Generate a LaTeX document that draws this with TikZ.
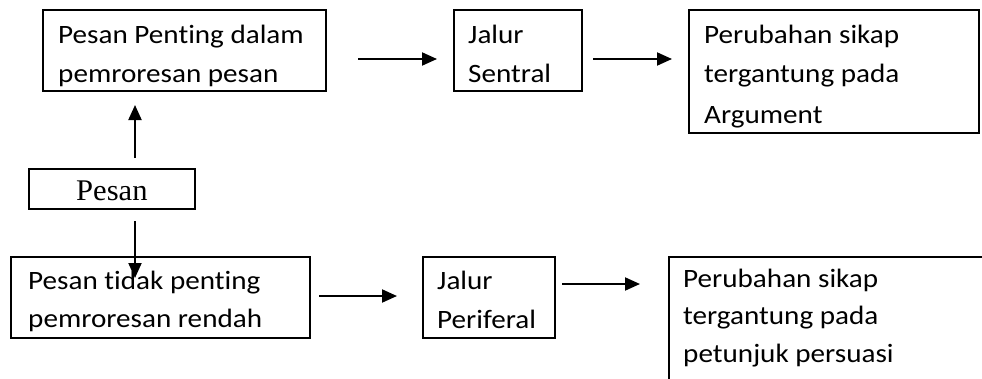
\documentclass[tikz,border=0pt]{standalone}
\usepackage{fontspec}
\setmainfont{Carlito}[FakeStretch=1.10, Ligatures=NoCommon]
\newfontfamily\serifword{Liberation Serif}[FakeStretch=1.02]
\usetikzlibrary{arrows.meta}

\tikzset{
  box/.style={draw, line width=2.4pt, rectangle, inner sep=0pt, outer sep=0pt, anchor=north west},
  txt/.style={anchor=base west, inner sep=0pt, font=\fontsize{26.5}{30}\selectfont},
  arr/.style={line width=2pt, -{Triangle[length=15pt,width=13pt]}}
}

\begin{document}
\begin{tikzpicture}[x=1pt, y=-1pt]
  \useasboundingbox (0,0) rectangle (982,378);
  \clip (0,0) rectangle (982,378);

  % boxes (top row)
  \node[box, minimum width=283pt, minimum height=81pt] (penting) at (43,10) {};
  \node[box, minimum width=128pt, minimum height=81pt] (sentral) at (454,10) {};
  \node[box, minimum width=290pt, minimum height=123pt] (argumen) at (689,10) {};

  % source
  \node[box, minimum width=166pt, minimum height=40pt] (pesan) at (29,169) {};

  % boxes (bottom row)
  \node[box, minimum width=299pt, minimum height=81pt] (tidak) at (11,257) {};
  \node[box, minimum width=132pt, minimum height=81pt] (periferal) at (423,257) {};
  \node[box, minimum width=400pt, minimum height=200pt] (petunjuk) at (669,257) {};

  % texts
  \node[txt] (t1a) at (58,43) {Pesan Penting dalam};
  \node[txt] (t1b) at (58,82) {pemroresan pesan};
  \node[txt] (t2a) at (468,43) {Jalur};
  \node[txt] (t2b) at (468,82) {Sentral};
  \node[txt] (t3a) at (704,43) {Perubahan sikap};
  \node[txt] (t3b) at (704,82) {tergantung pada};
  \node[txt] (t3c) at (704,123) {Argument};

  \node[anchor=base west, inner sep=0pt, font=\serifword\fontsize{30}{34}\selectfont] (tp) at (76,200) {Pesan};

  \node[txt] (t4a) at (28,289) {Pesan tidak penting};
  \node[txt] (t4b) at (28,327) {pemroresan rendah};
  \node[txt] (t5a) at (437,289) {Jalur};
  \node[txt] (t5b) at (437,328) {Periferal};
  \node[txt] (t6a) at (683,287) {Perubahan sikap};
  \node[txt] (t6b) at (683,324) {tergantung pada};
  \node[txt] (t6c) at (683,362) {petunjuk persuasi};

  % arrow end points
  \coordinate (a1s) at (358,59);  \coordinate (a1e) at (437,59);
  \coordinate (a2s) at (593,59);  \coordinate (a2e) at (672,59);
  \coordinate (ups) at (135,158); \coordinate (upe) at (135,105);
  \coordinate (dns) at (135,221); \coordinate (dne) at (135,278);
  \coordinate (b1s) at (319,296); \coordinate (b1e) at (397,296);
  \coordinate (b2s) at (562,284); \coordinate (b2e) at (640,284);

  \draw[arr] (a1s) -- (a1e);
  \draw[arr] (a2s) -- (a2e);
  \draw[arr] (ups) -- (upe);
  \draw[arr] (dns) -- (dne);
  \draw[arr] (b1s) -- (b1e);
  \draw[arr] (b2s) -- (b2e);
\end{tikzpicture}
\end{document}
